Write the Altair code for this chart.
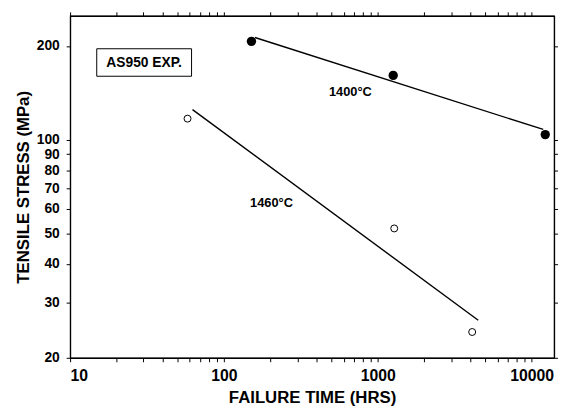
import altair as alt
import pandas as pd

# data
t1400 = [151, 1260, 12270]
s1400 = [207, 161, 104]
t1460 = [58, 1280, 4110]
s1460 = [117, 52, 24.2]

fit1400_t = [159, 11900]
fit1400_s = [213, 108]
fit1460_t = [62.5, 4500]
fit1460_s = [125, 26.4]

label_text = ["1400°C", "1460°C"]
label_t = [482, 148]
label_s = [142, 62.5]

box_t = [14.9, 61.6]
box_s = [196, 160]
box_text = "AS950 EXP."
box_text_t = 30.3
box_text_s = 176.7

x_ticks = [10, 20, 30, 40, 50, 60, 70, 80, 90,
           100, 200, 300, 400, 500, 600, 700, 800, 900,
           1000, 2000, 3000, 4000, 5000, 6000, 7000, 8000, 9000, 10000]
y_ticks = [20, 30, 40, 50, 60, 70, 80, 90, 100, 200]

FONT = "Liberation Sans"

pts = pd.DataFrame(
    {"t": t1400 + t1460, "s": s1400 + s1460,
     "series": ["1400"] * len(t1400) + ["1460"] * len(t1460)}
)
fits = pd.DataFrame(
    {"t": fit1400_t + fit1460_t, "s": fit1400_s + fit1460_s,
     "series": ["1400"] * 2 + ["1460"] * 2}
)
labels = pd.DataFrame({"t": label_t, "s": label_s, "txt": label_text})
box = pd.DataFrame({"t": [box_t[0]], "t2": [box_t[1]], "s": [box_s[0]], "s2": [box_s[1]]})
boxlbl = pd.DataFrame({"t": [box_text_t], "s": [box_text_s], "txt": [box_text]})

xscale = alt.Scale(type="log", domain=[10, 14000], nice=False)
yscale = alt.Scale(type="log", domain=[20, 250], nice=False)

xaxis_main = alt.Axis(
    values=x_ticks, orient="bottom",
    labelExpr="indexof([10,100,1000,10000], datum.value) >= 0 ? format(datum.value, 'd') : ''",
    title="FAILURE TIME (HRS)", tickSize=4, labelPadding=6, titlePadding=6,
    labelOverlap=False,
)
yaxis_main = alt.Axis(
    values=y_ticks, orient="left", format="d",
    title="TENSILE STRESS (MPa)", tickSize=4, labelPadding=7, titlePadding=4,
    labelOverlap=False, labelFontSize=14,
)
xaxis_top = alt.Axis(values=x_ticks, orient="top", labels=False, title=None, tickSize=4)
yaxis_right = alt.Axis(values=y_ticks, orient="right", labels=False, title=None, tickSize=4)

lines = alt.Chart(fits).mark_line(color="black", strokeWidth=1.4).encode(
    x=alt.X("t:Q", scale=xscale, axis=xaxis_main),
    y=alt.Y("s:Q", scale=yscale, axis=yaxis_main),
    detail="series:N",
)

mirror = alt.Chart(fits).mark_point(opacity=0).encode(
    x=alt.X("t:Q", scale=xscale, axis=xaxis_top),
    y=alt.Y("s:Q", scale=yscale, axis=yaxis_right),
)

filled = alt.Chart(pts).transform_filter(alt.datum.series == "1400").mark_point(
    filled=True, color="black", size=90, opacity=1
).encode(
    x=alt.X("t:Q", scale=xscale, axis=None),
    y=alt.Y("s:Q", scale=yscale, axis=None),
)

hollow = alt.Chart(pts).transform_filter(alt.datum.series == "1460").mark_point(
    filled=False, color="black", size=50, strokeWidth=1, opacity=1
).encode(
    x=alt.X("t:Q", scale=xscale, axis=None),
    y=alt.Y("s:Q", scale=yscale, axis=None),
)

txt = alt.Chart(labels).mark_text(
    font=FONT, fontWeight="bold", fontSize=13, align="left", baseline="middle", color="black"
).encode(
    x=alt.X("t:Q", scale=xscale, axis=None),
    y=alt.Y("s:Q", scale=yscale, axis=None),
    text="txt:N",
)

rect = alt.Chart(box).mark_rect(fill="white", stroke="black", strokeWidth=1).encode(
    x=alt.X("t:Q", scale=xscale, axis=None),
    x2="t2:Q",
    y=alt.Y("s:Q", scale=yscale, axis=None),
    y2="s2:Q",
)

boxtxt = alt.Chart(boxlbl).mark_text(
    font=FONT, fontWeight="bold", fontSize=14, align="center", baseline="middle", color="black"
).encode(
    x=alt.X("t:Q", scale=xscale, axis=None),
    y=alt.Y("s:Q", scale=yscale, axis=None),
    text="txt:N",
)

chart = alt.layer(lines, mirror, rect, boxtxt, filled, hollow, txt).resolve_axis(
    x="independent", y="independent"
).properties(
    width=491, height=347,
    padding={"left": 63, "top": 5, "right": 4, "bottom": 49},
    autosize=alt.AutoSizeParams(type="none"),
).configure_view(
    stroke="black", strokeWidth=1.2
).configure_axis(
    grid=False,
    domainColor="black", domainWidth=1.2,
    tickColor="black", tickWidth=1,
    labelFont=FONT, labelFontWeight="bold", labelFontSize=16, labelColor="black",
    titleFont=FONT, titleFontWeight="bold", titleFontSize=17, titleColor="black",
)

chart.save("out.html", embed_options={"renderer": "svg", "actions": False})
